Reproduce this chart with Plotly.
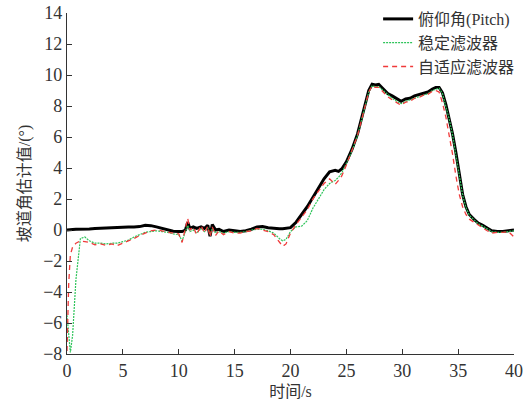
import plotly.graph_objects as go

# time axis (s)
t = [0, 0.15, 0.3, 0.5, 0.8, 1.2, 1.6, 2, 2.5, 3, 3.5, 4, 4.5, 5, 5.5, 6, 6.5, 7, 7.5, 8,
     8.5, 9, 9.5, 10, 10.3, 10.6, 10.8, 11, 11.3, 11.6, 12, 12.3, 12.6, 12.8, 13, 13.3, 13.6, 14, 14.5, 15,
     15.5, 16, 16.5, 17, 17.5, 18, 18.5, 19, 19.3, 19.6, 20, 20.5, 21, 21.5, 22, 22.5, 23, 23.5, 24, 24.3,
     24.6, 25, 25.5, 26, 26.5, 27, 27.3, 27.6, 27.9, 28.3, 28.7, 29.1, 29.5, 29.9, 30.3, 30.7, 31.1, 31.5, 31.9, 32.3,
     32.7, 33.0, 33.3, 33.6, 33.9, 34.2, 34.5, 34.8, 35.1, 35.4, 35.7, 36.0, 36.4, 36.8, 37.2, 37.6, 38.0, 38.5, 39, 39.5,
     40]

pitch = [0, 0, 0.02, 0.03, 0.05, 0.05, 0.06, 0.07, 0.1, 0.12, 0.15, 0.15, 0.17, 0.18, 0.2, 0.2, 0.22, 0.3, 0.28, 0.2,
         0.1, 0.0, -0.08, -0.1, -0.1, 0.0, 0.5, 0.1, 0.2, 0.1, 0.2, 0.1, 0.3, -0.4, 0.35, 0.0, 0.05, -0.1, 0.0, -0.05,
         -0.1, -0.05, 0.05, 0.2, 0.22, 0.15, 0.1, 0.08, 0.08, 0.1, 0.15, 0.5, 1.0, 1.5, 2.1, 2.7, 3.3, 3.75, 3.85, 3.78,
         3.95, 4.4, 5.2, 6.2, 7.6, 9.0, 9.4, 9.35, 9.4, 9.1, 8.8, 8.65, 8.45, 8.3, 8.45, 8.5, 8.65, 8.75, 8.85, 8.9,
         9.1, 9.2, 9.2, 8.85, 8.1, 7.2, 6.2, 5.0, 3.6, 2.3, 1.5, 1.0, 0.7, 0.45, 0.3, 0.1, -0.05, -0.1, -0.1, -0.05,
         0.0]

stable = [-5.5, -7.0, -7.9, -6.8, -3.2, -0.55, -0.45, -0.7, -0.85, -0.85, -0.9, -0.85, -0.85, -0.75, -0.65, -0.45, -0.3, -0.15, -0.1, -0.05,
          -0.1, -0.15, -0.25, -0.3, -0.7, -0.1, 0.3, -0.1, 0.0, -0.2, 0.1, -0.1, 0.15, -0.3, 0.1, -0.2, -0.1, -0.2, -0.1, -0.15,
          -0.15, -0.1, 0.0, 0.05, 0.05, -0.05, -0.2, -0.55, -0.7, -0.6, -0.1, 0.2, 0.25, 0.6, 1.4, 2.0, 2.6, 3.0, 3.2, 3.4,
          3.7, 4.3, 5.1, 6.1, 7.5, 8.9, 9.3, 9.25, 9.25, 9.0, 8.7, 8.5, 8.3, 8.15, 8.3, 8.4, 8.55, 8.65, 8.75, 8.8,
          9.0, 9.1, 9.15, 8.8, 8.05, 7.15, 6.15, 4.95, 3.55, 2.25, 1.45, 0.95, 0.65, 0.4, 0.25, 0.05, -0.1, -0.15, -0.15, -0.1,
          -0.05]

adaptive = [-7.8, -3.5, -1.6, -1.1, -0.85, -0.7, -0.75, -0.8, -0.95, -0.9, -1.0, -0.9, -1.0, -0.85, -0.75, -0.55, -0.35, -0.2, -0.05, 0.0,
            -0.05, -0.15, -0.2, -0.25, -0.8, 0.2, 0.75, 0.0, 0.2, -0.3, 0.3, -0.2, 0.25, -0.45, 0.2, -0.35, -0.05, -0.3, -0.1, -0.2,
            -0.2, -0.1, -0.05, 0.1, 0.0, -0.1, -0.3, -0.8, -1.05, -0.9, -0.2, 0.35, 0.8, 1.3, 2.0, 2.5, 3.0, 3.3, 2.95, 3.2,
            3.5, 4.2, 5.1, 6.1, 7.5, 8.9, 9.3, 9.2, 9.2, 8.9, 8.6, 8.4, 8.2, 8.05, 8.25, 8.3, 8.5, 8.55, 8.7, 8.75,
            8.95, 9.0, 8.9, 8.2, 7.3, 6.2, 4.9, 3.5, 2.3, 1.5, 1.0, 0.7, 0.5, 0.3, 0.15, -0.05, -0.2, -0.15, -0.15, -0.1,
            -0.45]

x_ticks = [0, 5, 10, 15, 20, 25, 30, 35, 40]
y_ticks = [-8, -6, -4, -2, 0, 2, 4, 6, 8, 10, 12, 14]

FONT = "Liberation Serif, Noto Sans CJK SC, serif"

fig = go.Figure()
fig.add_trace(go.Scatter(x=t, y=pitch, mode="lines", name="俯仰角(Pitch)",
                         line=dict(color="black", width=3)))
fig.add_trace(go.Scatter(x=t, y=stable, mode="lines", name="稳定滤波器",
                         line=dict(color="#2ec45a", width=1.2, dash="2px,1px")))
fig.add_trace(go.Scatter(x=t, y=adaptive, mode="lines", name="自适应滤波器",
                         line=dict(color="#f03a3a", width=1.3, dash="5px,4px")))

axis_common = dict(showline=True, linecolor="#333", linewidth=1.2, ticks="inside",
                   ticklen=5, tickcolor="#333", tickwidth=1.2, showgrid=False, zeroline=False,
                   tickfont=dict(family=FONT, size=18, color="#333"))

H_PLOT = 413 - 59  # height of area above bottom margin
fig.update_layout(
    width=530, height=413,
    margin=dict(l=67, r=16, t=0, b=59),
    paper_bgcolor="white", plot_bgcolor="white",
    xaxis=dict(range=[0, 40], tickvals=x_ticks, mirror=False, automargin=False,
               title=dict(text="时间/s", font=dict(family=FONT, size=16, color="#333"), standoff=6),
               **axis_common),
    yaxis=dict(range=[-8, 14], tickvals=y_ticks, automargin=False,
               domain=[0, 1 - 13 / H_PLOT],
               title=dict(text="坡道角估计值/(°)", font=dict(family=FONT, size=16, color="#333"), standoff=8),
               **axis_common),
    legend=dict(x=0.696, y=1 - 2 / H_PLOT, xanchor="left", yanchor="top", bgcolor="rgba(0,0,0,0)",
                font=dict(family=FONT, size=16, color="#333"), tracegroupgap=0),
    showlegend=True,
)

fig.write_html("out.html")
